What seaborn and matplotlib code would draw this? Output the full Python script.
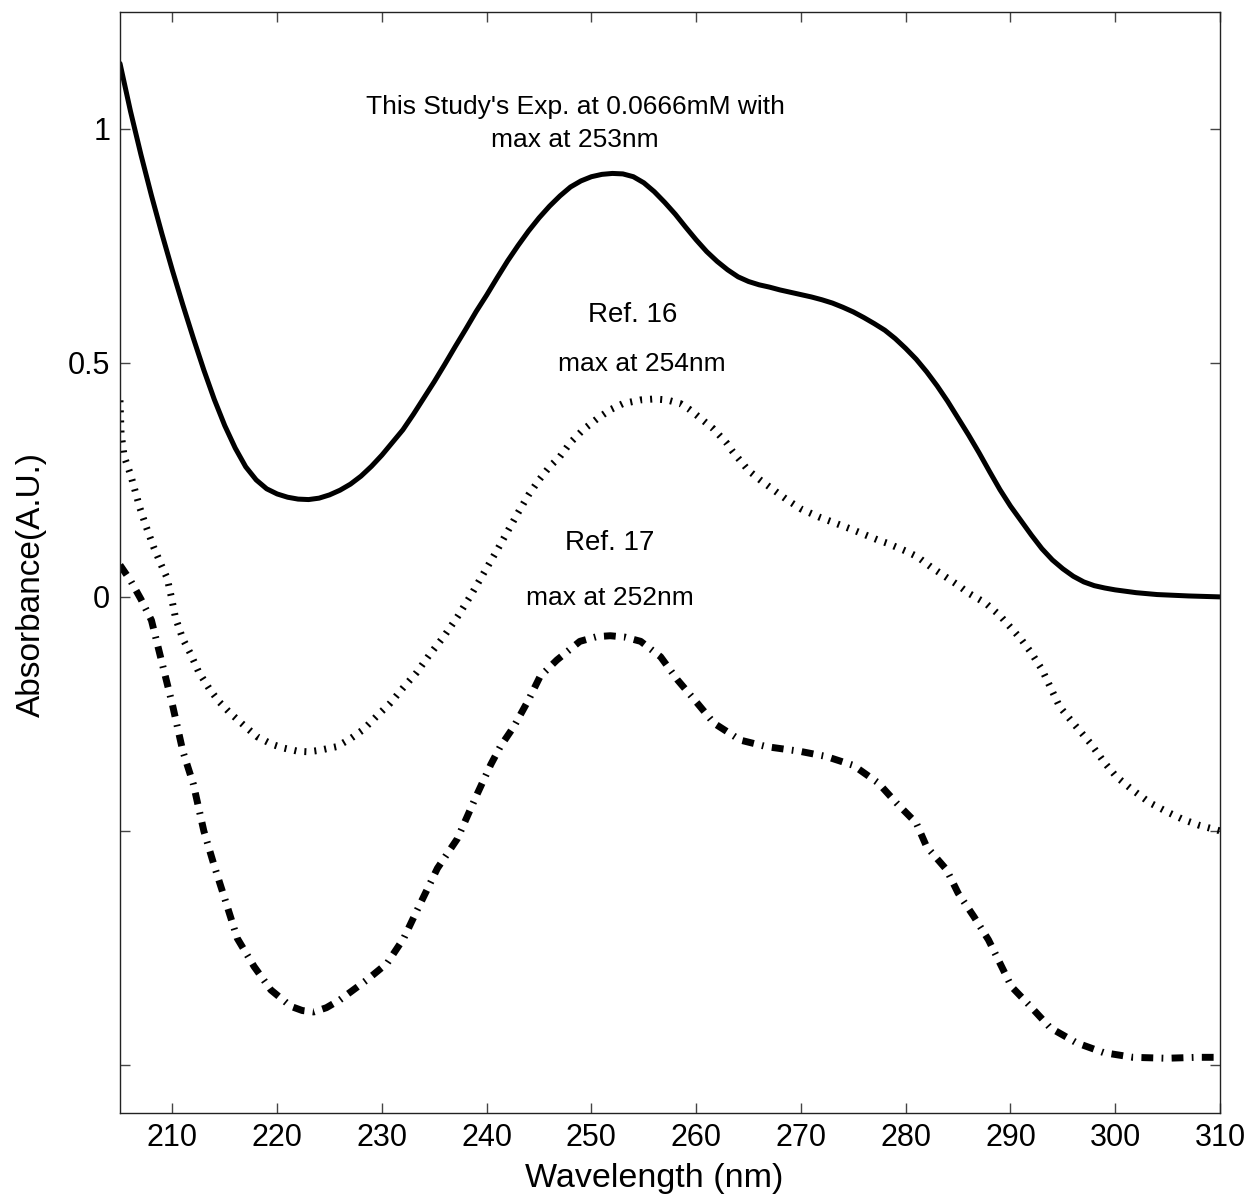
import matplotlib
matplotlib.use("Agg")
import matplotlib.pyplot as plt
import seaborn as sns

# Absorbance spectra (wavelength in nm, absorbance in A.U.)
wl_exp = [205.0, 206.0, 207.0, 208.0, 209.0, 210.0, 211.0, 212.0, 213.0, 214.0,
          215.0, 216.0, 217.0, 218.0, 219.0, 220.0, 221.0, 222.0, 223.0, 224.0,
          225.0, 226.0, 227.0, 228.0, 229.0, 230.0, 231.0, 232.0, 233.0, 234.0,
          235.0, 236.0, 237.0, 238.0, 239.0, 240.0, 241.0, 242.0, 243.0, 244.0,
          245.0, 246.0, 247.0, 248.0, 249.0, 250.0, 251.0, 252.0, 253.0, 254.0,
          255.0, 256.0, 257.0, 258.0, 259.0, 260.0, 261.0, 262.0, 263.0, 264.0,
          265.0, 266.0, 267.0, 268.0, 269.0, 270.0, 271.0, 272.0, 273.0, 274.0,
          275.0, 276.0, 277.0, 278.0, 279.0, 280.0, 281.0, 282.0, 283.0, 284.0,
          285.0, 286.0, 287.0, 288.0, 289.0, 290.0, 291.0, 292.0, 293.0, 294.0,
          295.0, 296.0, 297.0, 298.0, 299.0, 300.0, 302.0, 304.0, 307.0, 310.0]
abs_exp = [1.140, 1.038, 0.945, 0.858, 0.776, 0.698, 0.624, 0.553, 0.485, 0.422,
           0.366, 0.318, 0.278, 0.250, 0.231, 0.220, 0.213, 0.209, 0.208, 0.211,
           0.218, 0.228, 0.241, 0.258, 0.279, 0.303, 0.330, 0.357, 0.390, 0.425,
           0.460, 0.497, 0.535, 0.572, 0.610, 0.645, 0.682, 0.718, 0.751, 0.782,
           0.810, 0.835, 0.857, 0.876, 0.889, 0.898, 0.903, 0.905, 0.904, 0.898,
           0.885, 0.866, 0.843, 0.818, 0.790, 0.763, 0.738, 0.717, 0.699, 0.684,
           0.674, 0.667, 0.662, 0.656, 0.651, 0.646, 0.641, 0.635, 0.628, 0.619,
           0.609, 0.597, 0.584, 0.570, 0.552, 0.531, 0.508, 0.481, 0.451, 0.418,
           0.382, 0.346, 0.308, 0.268, 0.229, 0.194, 0.163, 0.132, 0.103, 0.079,
           0.060, 0.044, 0.032, 0.024, 0.019, 0.015, 0.009, 0.005, 0.002, 0.000]

wl_ref16 = [205.0, 205.1, 205.4, 206.0, 206.9, 207.5, 208.2, 209.0, 209.5, 209.9,
            210.3, 211.0, 211.7, 212.5, 213.6, 214.5, 215.5, 217.0, 218.1, 219.5,
            220.6, 222.0, 223.0, 224.0, 225.7, 227.0, 228.2, 229.5, 230.8, 232.0,
            233.3, 234.5, 235.9, 237.2, 238.4, 239.7, 241.0, 242.0, 243.0, 244.0,
            245.0, 246.0, 247.0, 248.0, 249.2, 250.5, 251.8, 253.0, 254.7, 256.0,
            257.2, 258.5, 259.4, 260.5, 261.6, 262.9, 263.5, 265.0, 266.1, 267.0,
            268.7, 270.0, 271.8, 273.0, 275.0, 277.3, 278.2, 280.0, 281.1, 282.4,
            284.0, 285.0, 286.0, 287.6, 289.0, 290.0, 291.0, 292.0, 293.0, 294.7,
            296.0, 297.6, 299.0, 300.1, 301.5, 303.3, 305.0, 306.5, 308.0, 310.0]
abs_ref16 = [0.420, 0.350, 0.300, 0.262, 0.190, 0.150, 0.107, 0.065, 0.040, 0.000,
             -0.045, -0.090, -0.120, -0.160, -0.199, -0.225, -0.248, -0.278, -0.299, -0.315,
             -0.323, -0.330, -0.331, -0.328, -0.320, -0.303, -0.284, -0.255, -0.227, -0.195,
             -0.162, -0.125, -0.085, -0.043, 0.000, 0.050, 0.100, 0.140, 0.180, 0.218,
             0.250, 0.278, 0.300, 0.330, 0.357, 0.380, 0.400, 0.413, 0.421, 0.423,
             0.421, 0.413, 0.400, 0.380, 0.360, 0.329, 0.310, 0.270, 0.250, 0.235,
             0.207, 0.188, 0.170, 0.160, 0.143, 0.122, 0.115, 0.098, 0.086, 0.064,
             0.040, 0.025, 0.008, -0.013, -0.040, -0.065, -0.090, -0.120, -0.155, -0.235,
             -0.270, -0.312, -0.355, -0.384, -0.410, -0.440, -0.460, -0.476, -0.488, -0.500]

wl_ref17 = [205.0, 206.0, 207.0, 208.0, 209.0, 210.0, 211.0, 212.0, 213.0, 214.0,
            215.0, 216.2, 217.8, 219.4, 221.3, 222.4, 223.5, 224.7, 226.0, 228.6,
            230.5, 232.1, 233.2, 235.3, 237.2, 239.1, 240.4, 241.3, 242.6, 244.0,
            245.1, 246.7, 248.9, 250.5, 251.8, 253.2, 254.7, 256.6, 258.2, 260.1,
            261.7, 264.2, 266.7, 269.9, 272.4, 275.0, 277.4, 279.1, 281.0, 282.0,
            283.9, 285.0, 286.5, 287.9, 289.0, 290.1, 291.9, 293.8, 296.3, 298.9,
            301.7, 304.9, 307.8, 310.0]
abs_ref17 = [0.068, 0.035, -0.005, -0.050, -0.140, -0.230, -0.330, -0.400, -0.500, -0.575,
             -0.645, -0.730, -0.790, -0.840, -0.875, -0.884, -0.887, -0.878, -0.861, -0.818,
             -0.783, -0.729, -0.677, -0.580, -0.517, -0.421, -0.358, -0.320, -0.277, -0.220,
             -0.170, -0.135, -0.095, -0.085, -0.083, -0.086, -0.095, -0.128, -0.177, -0.227,
             -0.270, -0.306, -0.320, -0.330, -0.341, -0.360, -0.398, -0.440, -0.483, -0.534,
             -0.583, -0.633, -0.683, -0.733, -0.783, -0.833, -0.875, -0.921, -0.953, -0.974,
             -0.984, -0.986, -0.984, -0.984]

x_ticks = [210, 220, 230, 240, 250, 260, 270, 280, 290, 300, 310]
y_ticks = [-1.0, -0.5, 0.0, 0.5, 1.0]
y_tick_labels = ["", "", "0", "0.5", "1"]

labels = [
    ("This Study's Exp. at 0.0666mM with", 248.45, 1.047, 19),
    ("max at 253nm", 248.4, 0.976, 19),
    ("Ref. 16", 253.9, 0.603, 20),
    ("max at 254nm", 254.85, 0.498, 19),
    ("Ref. 17", 251.7, 0.115, 20),
    ("max at 252nm", 251.8, -0.002, 19),
]

sns.set_theme(style="ticks")
plt.rcParams["font.family"] = ["Liberation Sans", "DejaVu Sans"]

fig = plt.figure(figsize=(12.51, 11.99), dpi=100)
ax = fig.add_axes([120 / 1251, 1 - 1113 / 1199, 1100 / 1251, 1101 / 1199])

# solid experimental spectrum
sns.lineplot(x=wl_exp, y=abs_exp, ax=ax, color="black", linewidth=3.6,
             estimator=None, sort=False)
# Ref. 16: dense dotted trace
sns.lineplot(x=wl_ref16, y=abs_ref16, ax=ax, color="black", linewidth=5.0,
             estimator=None, sort=False)
ax.lines[-1].set_linestyle((0, (0.29, 1.16)))
ax.lines[-1].set_dash_capstyle("butt")
# Ref. 17: heavy dash-dot trace
sns.lineplot(x=wl_ref17, y=abs_ref17, ax=ax, color="black", linewidth=5.0,
             estimator=None, sort=False)
ax.lines[-1].set_linestyle((0, (1.7, 1.2, 0.25, 1.2)))
ax.lines[-1].set_dash_capstyle("butt")

for text, x, y, size in labels:
    ax.text(x, y, text, ha="center", va="center", fontsize=size, color="black")

ax.set_xlim(205, 310)
ax.set_ylim(-1.103, 1.25)
ax.set_xticks(x_ticks)
ax.set_xticklabels([str(t) for t in x_ticks])
ax.set_yticks(y_ticks)
ax.set_yticklabels(y_tick_labels)

ax.tick_params(axis="both", which="both", direction="in", length=7, width=1.0,
               color="#444444", labelsize=22, labelcolor="black", pad=7,
               top=True, right=True)
for side in ["left", "right", "top", "bottom"]:
    ax.spines[side].set_visible(True)
    ax.spines[side].set_linewidth(1.0)
    ax.spines[side].set_color("#222222")

ax.set_xlabel("Wavelength (nm)", fontsize=24.5, color="black")
ax.set_ylabel("Absorbance(A.U.)", fontsize=24, color="black")
ax.xaxis.set_label_coords(0.486, -0.045)
ax.yaxis.set_label_coords(-0.066, 0.48)

fig.savefig("out.png", dpi=100, facecolor="white")
